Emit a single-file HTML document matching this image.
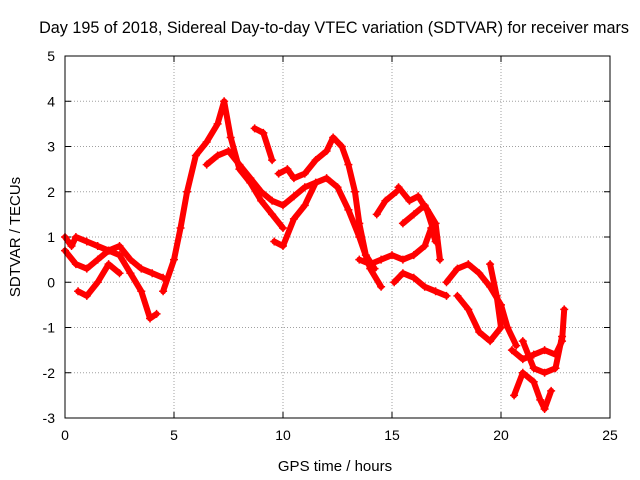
<!DOCTYPE html>
<html><head><meta charset="utf-8"><style>
body{margin:0;background:#fff}
svg{display:block;font-family:"Liberation Sans",sans-serif}
</style></head><body>
<svg id="chart" width="640" height="480">
<rect width="640" height="480" fill="#fff"/>
<text x="334" y="33" font-size="16.2" text-anchor="middle">Day 195 of 2018, Sidereal Day-to-day VTEC variation (SDTVAR) for receiver mars</text>
<text x="335" y="471" font-size="15" text-anchor="middle">GPS time / hours</text>
<text transform="translate(20,237) rotate(-90)" font-size="15" text-anchor="middle">SDTVAR / TECUs</text>
<g id="grid"></g><g id="ticks"></g><g id="marks"></g>
<rect x="65" y="56" width="545" height="362" fill="none" stroke="#000" stroke-width="1"/>
</svg>
<script>
const xTicks=[0,5,10,15,20,25];
const yTicks=[-3,-2,-1,0,1,2,3,4,5];
const trackA=[[0,1.0],[0.3,0.8],[0.5,1.0],[1,0.9],[1.5,0.8],[2,0.7],[2.5,0.8],[3,0.5],[3.5,0.3],[4,0.2],[4.5,0.1]];
const trackB=[[0,0.7],[0.5,0.4],[1,0.3],[1.5,0.5],[2,0.7],[2.5,0.6],[3,0.2],[3.5,-0.2],[3.9,-0.8],[4.2,-0.7]];
const trackC=[[0.6,-0.2],[1,-0.3],[1.5,0],[2,0.4],[2.5,0.2]];
const trackD=[[4.5,-0.2],[5,0.5],[5.3,1.2],[5.6,2.0],[6,2.8],[6.5,3.1],[7,3.5],[7.3,4.0],[7.6,3.2],[8,2.5],[8.5,2.2],[9,1.8],[9.5,1.5],[10,1.2]];
const trackE=[[6.5,2.6],[7,2.8],[7.5,2.9],[8,2.6],[8.5,2.3],[9,2.0],[9.5,1.8],[10,1.7],[10.5,1.9],[11,2.1],[11.5,2.2],[12,2.3],[12.5,2.1],[13,1.6],[13.5,1.0],[14,0.3],[14.5,-0.1]];
const trackF=[[8.7,3.4],[9.1,3.3],[9.5,2.7]];
const trackG=[[9.6,0.9],[10,0.8],[10.5,1.4],[11,1.7],[11.5,2.2]];
const trackH=[[9.8,2.4],[10.2,2.5],[10.5,2.3],[11,2.4],[11.5,2.7],[12,2.9],[12.3,3.2],[12.7,3.0],[13,2.6],[13.3,2.0],[13.5,1.3],[13.8,0.6],[14.2,0.3]];
const trackI=[[14.3,1.5],[14.7,1.8],[15.2,2.0]];
const trackJ=[[13.5,0.5],[14,0.4],[14.5,0.5],[15,0.6],[15.5,0.5],[16,0.6],[16.5,0.8],[16.8,1.2],[17,0.9]];
const trackK=[[15.5,1.3],[16,1.5],[16.5,1.7],[17,1.3],[17.2,0.5]];
const trackL=[[15.1,0],[15.5,0.2],[16,0.1],[16.5,-0.1],[17,-0.2],[17.5,-0.3]];
const trackM=[[15.3,2.1],[15.8,1.8],[16.2,1.9],[16.6,1.6],[17,1.0]];
const trackN=[[17.5,0],[18,0.3],[18.5,0.4],[19,0.2],[19.5,-0.1],[20,-0.5],[20.3,-1.0],[20.7,-1.4]];
const trackO=[[18,-0.3],[18.5,-0.6],[19,-1.1],[19.5,-1.3],[20,-1.0],[19.8,-0.3],[19.5,0.4]];
const trackP=[[20.5,-1.5],[21,-1.7],[21.5,-1.6],[22,-1.5],[22.5,-1.6],[22.8,-1.3],[22.9,-0.6]];
const trackQ=[[20.6,-2.5],[21,-2.0],[21.5,-2.2],[21.8,-2.6],[22,-2.8],[22.3,-2.4]];
const trackR=[[21,-1.3],[21.5,-1.9],[22,-2.0],[22.5,-1.9],[22.8,-1.2]];
const tracks=[trackA,trackB,trackC,trackD,trackE,trackF,trackG,trackH,trackI,trackJ,trackK,trackL,trackM,trackN,trackO,trackP,trackQ,trackR];
const NS="http://www.w3.org/2000/svg";
const X0=65,X1=610,Y0=418,Y1=56;
const xs=v=>X0+(v-0)/(25-0)*(X1-X0);
const ys=v=>Y0-(v-(-3))/(5-(-3))*(Y0-Y1);
function mk(t,a,p){const e=document.createElementNS(NS,t);for(const k in a)e.setAttribute(k,a[k]);p.appendChild(e);return e;}
const grid=document.getElementById('grid'),ticks=document.getElementById('ticks'),marks=document.getElementById('marks');
xTicks.forEach(v=>{const x=xs(v);
 if(v>0&&v<25){const g=mk('line',{x1:x,x2:x,y1:Y0,y2:Y1,stroke:'#a0a0a0','stroke-dasharray':'1,2'},grid);
 
 }
 mk('line',{x1:x,x2:x,y1:Y0,y2:Y0-6,stroke:'#000'},ticks);mk('line',{x1:x,x2:x,y1:Y1,y2:Y1+6,stroke:'#000'},ticks);
 const t=mk('text',{x:x,y:Y0+22,'font-size':14,'text-anchor':'middle'},ticks);t.textContent=v;
 
 });
yTicks.forEach(v=>{const y=ys(v);
 if(v>-3&&v<5){const g=mk('line',{x1:X0,x2:X1,y1:y,y2:y,stroke:'#a0a0a0','stroke-dasharray':'1,2'},grid);
 
 }
 mk('line',{x1:X0,x2:X0+6,y1:y,y2:y,stroke:'#000'},ticks);mk('line',{x1:X1,x2:X1-6,y1:y,y2:y,stroke:'#000'},ticks);
 const t=mk('text',{x:X0-10,y:y+5,'font-size':14,'text-anchor':'end'},ticks);t.textContent=v;
 
 });
tracks.forEach((tr,i)=>{
 const pl=mk('polyline',{points:tr.map(p=>xs(p[0])+','+ys(p[1])).join(' '),fill:'none',stroke:'#ff0000','stroke-width':6,'stroke-linejoin':'round','stroke-linecap':'round'},marks);
 
 
 tr.forEach(p=>{const x=xs(p[0]),y=ys(p[1]);
  const m=mk('path',{d:`M${x-4},${y}H${x+4}M${x},${y-4}V${y+4}`,stroke:'#ff0000','stroke-width':1.5},marks);
  
  });
});
</script>
</body></html>
